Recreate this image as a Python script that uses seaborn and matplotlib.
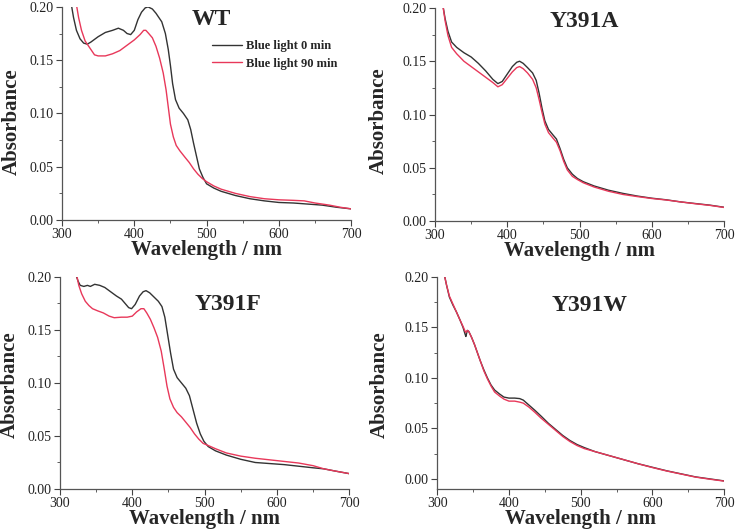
import matplotlib
matplotlib.use("Agg")
import matplotlib.pyplot as plt
from matplotlib.ticker import MultipleLocator, FormatStrFormatter
import seaborn as sns
import numpy as np
import pandas as pd

sns.set_style("ticks")
plt.rcParams['font.family'] = ['Liberation Serif', 'DejaVu Serif']

# --- DATA ---
labels = ['Blue light 0 min', 'Blue light 90 min']

wt_wl_0 = [313, 316, 320, 325, 330, 335, 340, 350, 360, 370, 378, 385, 390, 395, 400, 405, 410, 415, 419,
           425, 430, 438, 443, 447, 450, 453, 457, 462, 468, 474, 478, 482, 486, 490, 495, 500, 510, 520,
           540, 560, 580, 600, 620, 640, 660, 680, 700]
wt_abs_0 = [0.202, 0.190, 0.178, 0.170, 0.166, 0.165, 0.167, 0.172, 0.176, 0.178, 0.180, 0.178, 0.175, 0.174,
            0.178, 0.188, 0.195, 0.199, 0.200, 0.198, 0.194, 0.186, 0.175, 0.160, 0.145, 0.128, 0.113, 0.105,
            0.100, 0.094, 0.085, 0.072, 0.060, 0.048, 0.040, 0.034, 0.030, 0.027, 0.023, 0.020, 0.018, 0.0165,
            0.016, 0.015, 0.014, 0.012, 0.0105]
wt_wl_90 = [320, 323, 327, 332, 338, 342, 345, 350, 360, 370, 380, 390, 400, 408, 413, 416, 420, 425, 430,
            435, 440, 444, 447, 450, 454, 458, 463, 470, 476, 482, 488, 494, 500, 510, 520, 540, 560, 580,
            600, 620, 635, 650, 670, 685, 700]
wt_abs_90 = [0.202, 0.190, 0.178, 0.168, 0.162, 0.158, 0.155, 0.154, 0.154, 0.156, 0.159, 0.164, 0.169, 0.174,
             0.178, 0.178, 0.175, 0.171, 0.163, 0.152, 0.138, 0.122, 0.106, 0.090, 0.078, 0.070, 0.065, 0.059,
             0.054, 0.048, 0.043, 0.039, 0.036, 0.032, 0.029, 0.025, 0.022, 0.020, 0.019, 0.0185, 0.018, 0.016,
             0.014, 0.012, 0.0105]

a_wl = [311, 314, 318, 323, 330, 340, 350, 360, 370, 380, 387, 393, 400, 407, 413, 417, 422, 428, 435, 440,
        444, 448, 452, 457, 463, 468, 473, 478, 483, 490, 497, 505, 520, 540, 560, 580, 600, 620, 640, 660,
        680, 700]
a_abs_0 = [0.202, 0.190, 0.178, 0.168, 0.163, 0.158, 0.154, 0.148, 0.141, 0.133, 0.129, 0.131, 0.138, 0.145,
           0.149, 0.150, 0.148, 0.144, 0.139, 0.132, 0.120, 0.106, 0.094, 0.086, 0.081, 0.077, 0.068, 0.058,
           0.050, 0.044, 0.040, 0.037, 0.033, 0.029, 0.026, 0.0235, 0.0215, 0.020, 0.018, 0.0165, 0.015, 0.013]
a_abs_90 = [0.202, 0.188, 0.174, 0.163, 0.157, 0.150, 0.145, 0.140, 0.135, 0.130, 0.126, 0.128, 0.134, 0.140,
            0.144, 0.145, 0.143, 0.139, 0.133, 0.125, 0.114, 0.102, 0.091, 0.083, 0.078, 0.074, 0.066, 0.056,
            0.048, 0.042, 0.039, 0.036, 0.032, 0.028, 0.025, 0.023, 0.0212, 0.0198, 0.018, 0.0163, 0.0148, 0.0128]

f_wl_0 = [322, 325, 328, 333, 338, 342, 348, 355, 362, 370, 378, 385, 390, 395, 399, 404, 410, 415, 419, 424,
          430, 436, 441, 445, 449, 453, 457, 462, 468, 474, 479, 484, 489, 494, 499, 505, 515, 530, 550, 570,
          590, 610, 630, 650, 665, 680, 700]
f_abs_0 = [0.202, 0.196, 0.192, 0.191, 0.192, 0.191, 0.193, 0.192, 0.190, 0.186, 0.182, 0.179, 0.175, 0.171,
           0.170, 0.174, 0.182, 0.186, 0.187, 0.185, 0.181, 0.177, 0.172, 0.162, 0.145, 0.128, 0.113, 0.105,
           0.100, 0.095, 0.088, 0.075, 0.062, 0.052, 0.045, 0.040, 0.036, 0.032, 0.028, 0.025, 0.024, 0.023,
           0.0215, 0.020, 0.019, 0.017, 0.0145]
f_wl_90 = [323, 326, 330, 335, 340, 345, 352, 360, 368, 375, 385, 393, 400, 406, 412, 416, 420, 425, 430, 435,
           440, 444, 448, 452, 457, 462, 468, 474, 480, 486, 492, 498, 505, 515, 530, 550, 570, 590, 610, 630,
           650, 665, 680, 700]
f_abs_90 = [0.202, 0.192, 0.184, 0.177, 0.173, 0.170, 0.168, 0.166, 0.163, 0.1615, 0.162, 0.162, 0.163, 0.167,
            0.170, 0.170, 0.166, 0.160, 0.152, 0.143, 0.130, 0.114, 0.097, 0.085, 0.077, 0.072, 0.068, 0.063,
            0.058, 0.052, 0.047, 0.043, 0.041, 0.038, 0.034, 0.031, 0.029, 0.0275, 0.026, 0.0245, 0.022, 0.019,
            0.017, 0.0145]

w_wl = [310, 313, 317, 322, 327, 332, 336, 339, 340, 342, 344, 348, 352, 356, 360, 365, 370, 375, 380, 387,
        393, 400, 408, 415, 420, 428, 436, 445, 455, 465, 475, 485, 495, 505, 520, 540, 560, 580, 600, 620,
        640, 660, 680, 700]
w_abs_0 = [0.202, 0.192, 0.180, 0.172, 0.165, 0.157, 0.150, 0.143, 0.141, 0.147, 0.146, 0.140, 0.133, 0.125,
           0.117, 0.108, 0.100, 0.093, 0.088, 0.084, 0.081, 0.080, 0.080, 0.0795, 0.078, 0.073, 0.068, 0.062,
           0.055, 0.049, 0.043, 0.038, 0.034, 0.031, 0.027, 0.023, 0.019, 0.015, 0.0115, 0.008, 0.005, 0.002,
           0.0, -0.002]
w_abs_90 = [0.202, 0.192, 0.181, 0.173, 0.165, 0.157, 0.151, 0.146, 0.145, 0.147, 0.146, 0.140, 0.133, 0.125,
            0.117, 0.107, 0.099, 0.092, 0.086, 0.082, 0.079, 0.077, 0.077, 0.076, 0.075, 0.071, 0.066, 0.060,
            0.054, 0.048, 0.042, 0.037, 0.033, 0.030, 0.027, 0.023, 0.019, 0.015, 0.0112, 0.0078, 0.0048,
            0.0018, -0.0003, -0.0022]

panels = [
    ('WT', wt_wl_0, wt_abs_0, wt_wl_90, wt_abs_90),
    ('Y391A', a_wl, a_abs_0, a_wl, a_abs_90),
    ('Y391F', f_wl_0, f_abs_0, f_wl_90, f_abs_90),
    ('Y391W', w_wl, w_abs_0, w_wl, w_abs_90),
]

# --- layout (figure fractions, matched to the reference) ---
rects = [[0.0842, 0.584, 0.393, 0.403],
         [0.591, 0.582, 0.393, 0.403],
         [0.0815, 0.0756, 0.393, 0.401],
         [0.594, 0.0756, 0.390, 0.401]]
ylims = [(0, 0.20), (0, 0.20), (0, 0.20), (-0.01, 0.20)]
title_pos = [(0.515, 0.94), (0.515, 0.935), (0.58, 0.87), (0.53, 0.865)]
ylabel_pos = [(-0.138, 0.46), (-0.16, 0.47), (-0.138, 0.49), (-0.164, 0.49)]
palette = {labels[0]: '#333333', labels[1]: '#e8385a'}

fig = plt.figure(figsize=(7.36, 5.29), dpi=100)

for i, (name, wl0, ab0, wl90, ab90) in enumerate(panels):
    ax = fig.add_axes(rects[i])
    df = pd.concat([
        pd.DataFrame({'wavelength': wl0, 'absorbance': ab0, 'condition': labels[0]}),
        pd.DataFrame({'wavelength': wl90, 'absorbance': ab90, 'condition': labels[1]}),
    ])
    sns.lineplot(data=df, x='wavelength', y='absorbance', hue='condition', palette=palette,
                 estimator=None, linewidth=1.0, ax=ax, legend=(i == 0))

    ax.set_xlim(300, 700)
    ax.set_ylim(*ylims[i])
    ax.xaxis.set_major_locator(MultipleLocator(100))
    ax.xaxis.set_minor_locator(MultipleLocator(50))
    ax.yaxis.set_major_locator(MultipleLocator(0.05))
    ax.yaxis.set_minor_locator(MultipleLocator(0.025))
    ax.yaxis.set_major_formatter(FormatStrFormatter('%.2f'))
    ax.tick_params(which='major', direction='out', length=4, width=0.8, labelsize=10,
                   colors='#444444', labelcolor='#222222', pad=2)
    ax.tick_params(which='minor', direction='out', length=2, width=0.6, colors='#444444')
    sns.despine(ax=ax)
    for s in ['left', 'bottom']:
        ax.spines[s].set_color('#555555')
        ax.spines[s].set_linewidth(0.9)

    ax.set_xlabel('Wavelength / nm', fontsize=15, fontweight='bold', labelpad=-1)
    ax.set_ylabel('Absorbance', fontsize=15, fontweight='bold')
    ax.yaxis.set_label_coords(*ylabel_pos[i])
    ax.text(title_pos[i][0], title_pos[i][1], name, transform=ax.transAxes,
            fontsize=17, fontweight='bold', ha='center', va='center')

    if i == 0:
        ax.legend(loc='upper left', bbox_to_anchor=(0.52, 0.845), frameon=False,
                  prop={'weight': 'bold', 'size': 9}, handlelength=2.4,
                  handletextpad=0.3, labelspacing=0.45, borderaxespad=0, borderpad=0)

fig.savefig('out.png', dpi=100)
